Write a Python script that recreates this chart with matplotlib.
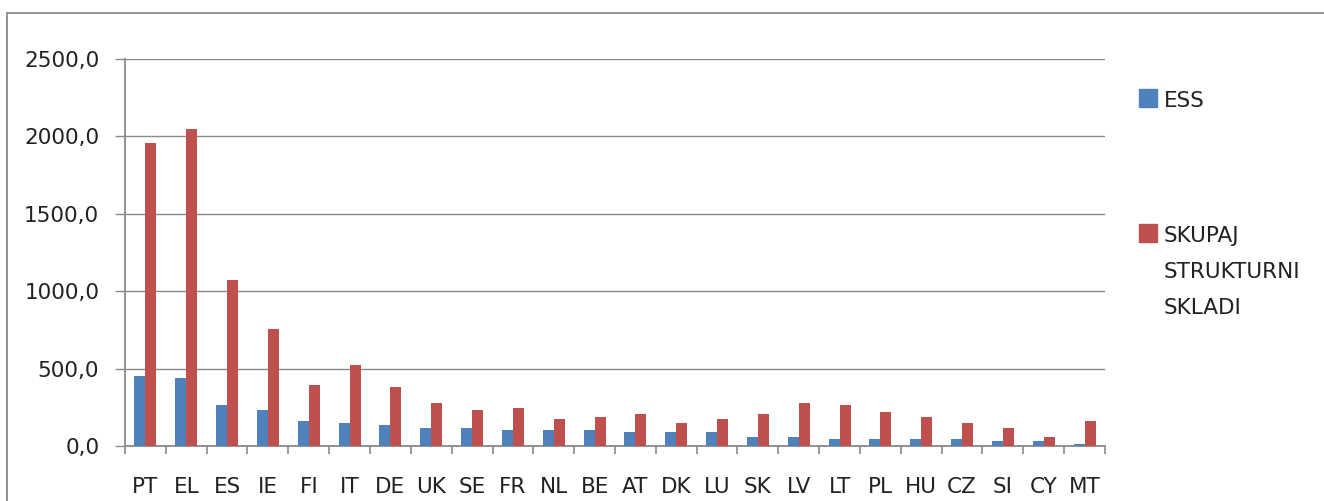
import matplotlib
matplotlib.use("Agg")
import matplotlib.pyplot as plt
from matplotlib.patches import Rectangle
import numpy as np

countries = ["PT", "EL", "ES", "IE", "FI", "IT", "DE", "UK", "SE", "FR", "NL", "BE",
             "AT", "DK", "LU", "SK", "LV", "LT", "PL", "HU", "CZ", "SI", "CY", "MT"]
ess = [451, 437, 262, 232, 161, 146, 133, 118, 118, 105, 105, 105,
       88, 88, 88, 60, 60, 45, 45, 45, 45, 30, 30, 15]
skupaj = [1960, 2048, 1075, 757, 394, 523, 378, 280, 234, 247, 176, 189,
          204, 146, 176, 204, 280, 262, 219, 189, 146, 118, 60, 161]
series_names = ["ESS", "SKUPAJ\nSTRUKTURNI\nSKLADI"]
yticks = [0, 500, 1000, 1500, 2000, 2500]

blue = "#4f81bd"
red = "#c0504d"
gray = "#8a8a8a"

W, H = 1324, 501
fig = plt.figure(figsize=(W / 100, H / 100), dpi=100)
ax = fig.add_axes([125 / W, 1 - 446 / H, 980 / W, (446 - 59) / H])

x = np.arange(len(countries))
bw = 0.27
ax.bar(x - bw / 2, ess, width=bw, color=blue, zorder=3)
ax.bar(x + bw / 2, skupaj, width=bw, color=red, zorder=3)

ax.set_xlim(-0.5, len(countries) - 0.5)
ax.set_ylim(0, 2500)
ax.set_yticks(yticks)
ax.set_yticklabels([f"{v:.1f}".replace(".", ",") for v in yticks])
ax.yaxis.grid(True, color=gray, linewidth=1.0, zorder=0)
ax.set_axisbelow(True)

ax.set_xticks(x)
ax.set_xticklabels(countries)
ax.set_xticks(np.arange(len(countries) + 1) - 0.5, minor=True)
ax.tick_params(axis="x", which="major", length=0, pad=22, labelsize=15.5, labelcolor="#222222")
ax.tick_params(axis="x", which="minor", length=6, width=1.2, color=gray, direction="out")
ax.tick_params(axis="y", length=7.5, width=1.0, color=gray, pad=11, labelsize=15.5,
               labelcolor="#222222")

for s in ["top", "right"]:
    ax.spines[s].set_visible(False)
for s in ["left", "bottom"]:
    ax.spines[s].set_color(gray)
    ax.spines[s].set_linewidth(1.3)

# outer chart frame
fig.add_artist(Rectangle((7 / W, -0.2), 1.5, 1.2 - 13 / H, transform=fig.transFigure,
                         fill=False, edgecolor=gray, linewidth=1.3))

# legend drawn manually
sq = 18
def legend_square(x0, ytop, color):
    fig.add_artist(Rectangle((x0 / W, 1 - (ytop + sq) / H), sq / W, sq / H,
                             transform=fig.transFigure, color=color))

legend_square(1139, 89, blue)
fig.text(1164 / W, 1 - 107 / H, series_names[0], fontsize=15.5, color="#222222", va="baseline")
legend_square(1139, 224, red)
for i, line in enumerate(series_names[1].split("\n")):
    fig.text(1164 / W, 1 - (242 + i * 36) / H, line, fontsize=15.5, color="#222222",
             va="baseline")

fig.savefig("out.png", dpi=100)
